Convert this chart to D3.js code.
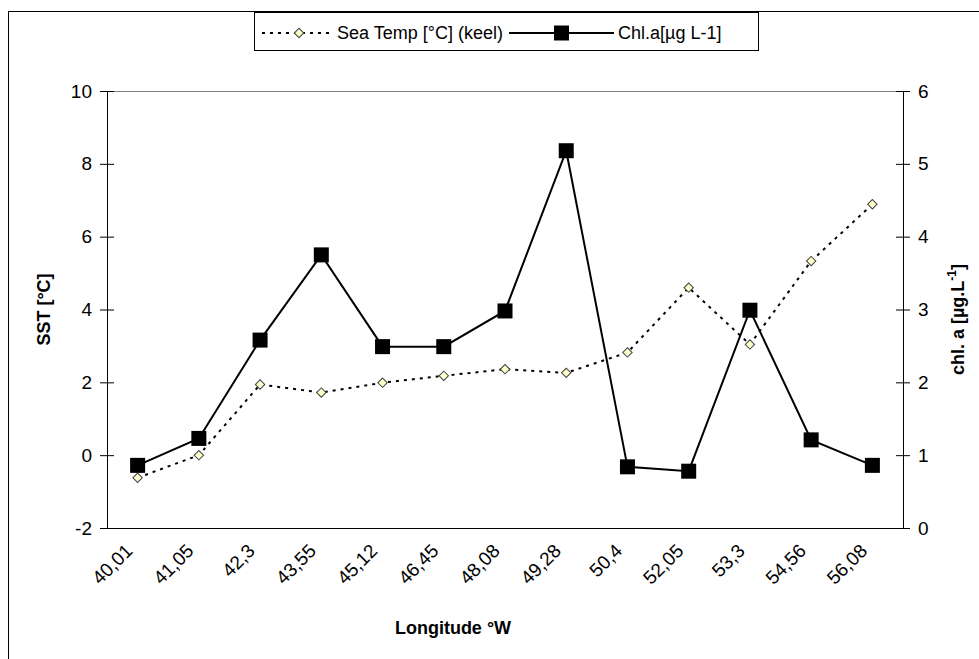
<!DOCTYPE html>
<html>
<head>
<meta charset="utf-8">
<script src="https://cdn.jsdelivr.net/npm/d3@7"></script>
<style>
  body { margin: 0; background: #fff; }
  text { font-family: "Liberation Sans", Arial, sans-serif; }
</style>
</head>
<body>
<div id="chart"></div>
<script>
// categories (longitude, as printed on the axis)
var longitudes = ["40,01", "41,05", "42,3", "43,55", "45,12", "46,45", "48,08", "49,28", "50,4", "52,05", "53,3", "54,56", "56,08"];
// Sea temp [°C] (keel) - left axis
var seaTemp = [-0.62, 0.0, 1.94, 1.72, 1.99, 2.18, 2.36, 2.26, 2.82, 4.6, 3.04, 5.33, 6.89];
// Chl.a [µg L-1] - right axis
var chla = [0.86, 1.23, 2.58, 3.75, 2.49, 2.49, 2.98, 5.18, 0.84, 0.78, 2.99, 1.21, 0.86];
var sstTicks = [-2, 0, 2, 4, 6, 8, 10];
var chlTicks = [0, 1, 2, 3, 4, 5, 6];

var width = 979, height = 659;
var margins = {top: 91, right: 76, bottom: 131, left: 107};
var plotW = width - margins.left - margins.right;
var plotH = height - margins.top - margins.bottom;

var svg = d3.select("#chart").append("svg")
    .attr("width", width)
    .attr("height", height);

// outer chart frame (cut off at right/bottom in the original)
svg.append("rect")
    .attr("x", 8.5).attr("y", 11.5)
    .attr("width", 1200).attr("height", 1200)
    .attr("fill", "none").attr("stroke", "#000").attr("stroke-width", 1);

var x = d3.scaleBand()
    .domain(longitudes)
    .range([0, plotW]);

var yL = d3.scaleLinear().domain([-2, 10]).range([plotH, 0]);
var yR = d3.scaleLinear().domain([0, 6]).range([plotH, 0]);

var g = svg.append("g")
    .attr("transform", "translate(" + margins.left + "," + margins.top + ")");

// plot area top border
g.append("line")
    .attr("x1", 0).attr("x2", plotW).attr("y1", 0.5).attr("y2", 0.5)
    .attr("stroke", "#808080").attr("stroke-width", 1);

function crossTicks(axisG) {
    axisG.selectAll(".tick line").attr("x1", -7).attr("x2", 7).attr("stroke", "#000").attr("stroke-width", 1);
    axisG.select(".domain").attr("stroke", "#000");
    axisG.selectAll(".tick text")
        .attr("font-size", "19px")
        .attr("fill", "#000")
        .attr("font-family", "Liberation Sans, Arial, sans-serif");
}

var plain = function(d) { return String(d); };

var leftAxis = g.append("g")
    .call(d3.axisLeft(yL).tickValues(sstTicks).tickFormat(plain).tickSize(7).tickPadding(8).tickSizeOuter(0));
crossTicks(leftAxis);

var rightAxis = g.append("g")
    .attr("transform", "translate(" + plotW + ",0)")
    .call(d3.axisRight(yR).tickValues(chlTicks).tickFormat(plain).tickSize(7).tickPadding(8).tickSizeOuter(0));
crossTicks(rightAxis);

// bottom axis
var bottomAxis = g.append("g")
    .attr("transform", "translate(0," + plotH + ")")
    .call(d3.axisBottom(x).tickSize(0).tickSizeOuter(0));
bottomAxis.select(".domain").attr("stroke", "#000");
bottomAxis.selectAll(".tick text")
    .attr("font-size", "19px")
    .attr("fill", "#000")
    .attr("font-family", "Liberation Sans, Arial, sans-serif")
    .attr("text-anchor", "end")
    .attr("dy", null)
    .attr("y", 0)
    .attr("transform", "translate(-4,24)rotate(-45)");

// axis titles
svg.append("text")
    .attr("transform", "translate(50," + (margins.top + plotH / 2) + ")rotate(-90)")
    .attr("text-anchor", "middle")
    .attr("font-size", "18px").attr("font-weight", "bold")
    .text("SST [°C]");

var rt = svg.append("text")
    .attr("transform", "translate(964," + (margins.top + plotH / 2 + 10) + ")rotate(-90)")
    .attr("text-anchor", "middle")
    .attr("font-size", "18px").attr("font-weight", "bold");
rt.append("tspan").text("chl. a [µg.L");
rt.append("tspan").attr("font-size", "12px").attr("dy", -8).text("-1");
rt.append("tspan").attr("dy", 8).text("]");

svg.append("text")
    .attr("x", 453).attr("y", 634)
    .attr("text-anchor", "middle")
    .attr("font-size", "18px").attr("font-weight", "bold")
    .text("Longitude °W");

var cx = function(d, i) { return x(longitudes[i]) + x.bandwidth() / 2; };

// Sea temp dotted line
var lineL = d3.line().x(cx).y(function(d) { return yL(d); });
g.append("path")
    .datum(seaTemp)
    .attr("d", lineL)
    .attr("fill", "none").attr("stroke", "#000")
    .attr("stroke-width", 2).attr("stroke-dasharray", "3,5");

// Chl line
var lineR = d3.line().x(cx).y(function(d) { return yR(d); });
g.append("path")
    .datum(chla)
    .attr("d", lineR)
    .attr("fill", "none").attr("stroke", "#000").attr("stroke-width", 2);

var diamond = d3.symbol().type(d3.symbolSquare).size(44);

g.selectAll(".dia")
    .data(seaTemp)
    .enter().append("path")
    .attr("class", "dia")
    .attr("d", diamond)
    .attr("transform", function(d, i) { return "translate(" + cx(d, i) + "," + yL(d) + ")rotate(45)"; })
    .attr("fill", "#FFFFCC").attr("stroke", "#404040").attr("stroke-width", 1);

g.selectAll(".sq")
    .data(chla)
    .enter().append("rect")
    .attr("class", "sq")
    .attr("x", function(d, i) { return cx(d, i) - 7.5; })
    .attr("y", function(d) { return yR(d) - 7.5; })
    .attr("width", 15).attr("height", 15)
    .attr("fill", "#000");

// legend
var leg = svg.append("g");
leg.append("rect")
    .attr("x", 254.5).attr("y", 12.5).attr("width", 504).attr("height", 38)
    .attr("fill", "#fff").attr("stroke", "#000");
leg.append("line")
    .attr("x1", 262).attr("x2", 330).attr("y1", 33).attr("y2", 33)
    .attr("stroke", "#000").attr("stroke-width", 2).attr("stroke-dasharray", "3,5");
leg.append("path")
    .attr("d", diamond)
    .attr("transform", "translate(299,33)rotate(45)")
    .attr("fill", "#FFFFCC").attr("stroke", "#404040");
leg.append("text")
    .attr("x", 337).attr("y", 39)
    .attr("font-size", "18px")
    .text("Sea Temp [°C] (keel)");
leg.append("line")
    .attr("x1", 509).attr("x2", 614).attr("y1", 33).attr("y2", 33)
    .attr("stroke", "#000").attr("stroke-width", 2);
leg.append("rect")
    .attr("x", 554).attr("y", 25.5).attr("width", 15).attr("height", 15)
    .attr("fill", "#000");
leg.append("text")
    .attr("x", 618).attr("y", 39)
    .attr("font-size", "18px")
    .text("Chl.a[µg L-1]");
</script>
</body>
</html>
